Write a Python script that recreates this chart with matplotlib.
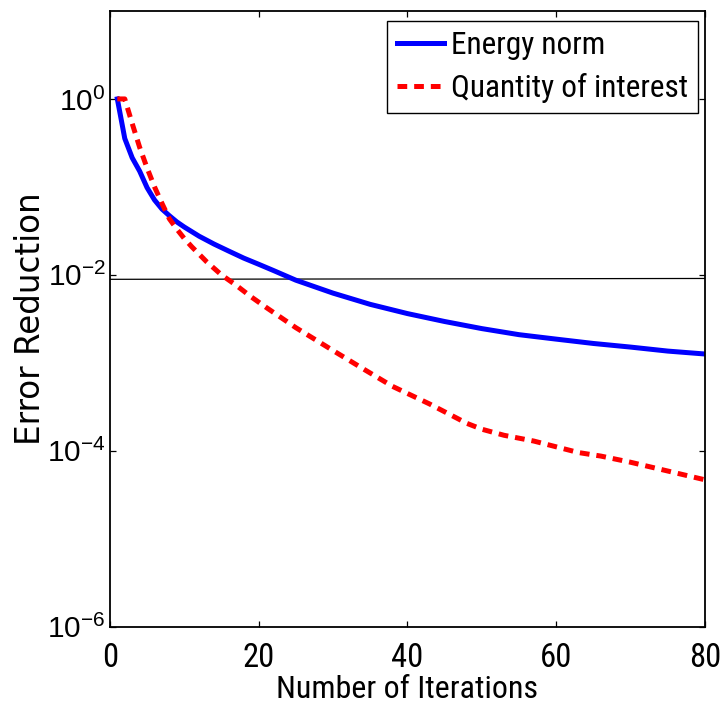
import os
import matplotlib
matplotlib.use("Agg")
import matplotlib.pyplot as plt
import matplotlib.font_manager as fm
from matplotlib.font_manager import FontProperties
from matplotlib.ticker import FixedLocator, NullLocator, FixedFormatter

plt.rcParams["font.family"] = ["Liberation Sans", "DejaVu Sans"]
plt.rcParams["lines.scale_dashes"] = False


def narrow_font_file():
    """Return the path of a narrow/condensed regular sans face, if any."""
    prefs = ["liberationsansnarrow-regular", "arialnarrow", "robotocondensed-regular",
             "opensans_condensed-regular", "opensanscondensed-regular",
             "notosans-condensed.", "notosans-condensedregular",
             "dejavusanscondensed."]
    files = [f.fname for f in fm.fontManager.ttflist]
    for key in prefs:
        for path in files:
            if key in os.path.basename(path).lower().replace(" ", ""):
                return path
    return None


NARROW_FILE = narrow_font_file()
NARROW_NAME = (FontProperties(fname=NARROW_FILE).get_name()
               if NARROW_FILE else "Liberation Sans")

plt.rcParams["mathtext.fontset"] = "custom"
plt.rcParams["mathtext.rm"] = NARROW_NAME
plt.rcParams["mathtext.it"] = NARROW_NAME
plt.rcParams["mathtext.default"] = "regular"


def text_font(size):
    if NARROW_FILE:
        return FontProperties(fname=NARROW_FILE, size=size)
    return FontProperties(family="Liberation Sans", size=size * 0.85)


# Energy-norm error reduction per iteration
energy_iter = [1, 2, 3, 4, 5, 6, 7, 8, 9, 10, 12, 14, 16, 18, 20, 22, 25,
               30, 35, 40, 45, 50, 55, 60, 65, 70, 75, 80]
energy_err = [1.0, 0.355, 0.214, 0.151, 0.098, 0.071, 0.056, 0.047, 0.040,
              0.035, 0.0275, 0.0224, 0.0186, 0.0155, 0.0132, 0.0112, 0.0087,
              0.0062, 0.00462, 0.00363, 0.00295, 0.00245, 0.00209, 0.00186,
              0.00166, 0.00151, 0.00136, 0.00126]

# Quantity-of-interest error reduction per iteration
qoi_iter = [1, 2, 3, 4, 5, 6, 7, 8, 9, 10, 11, 13, 15, 17, 19, 21, 25, 30,
            34, 38, 43, 48, 50, 53, 57, 63, 66, 70, 75, 80]
qoi_err = [1.0, 1.0, 0.525, 0.282, 0.164, 0.100, 0.065, 0.0433, 0.0331,
           0.0259, 0.0209, 0.0141, 0.0100, 0.00759, 0.00562, 0.00427,
           0.00251, 0.00138, 0.00086, 0.00054, 0.00034, 0.000205, 0.000176,
           0.000150, 0.000129, 0.0000955, 0.0000871, 0.0000741, 0.0000589,
           0.0000468]

# Tolerance reference line
tol_x = [0, 80]
tol_y = [0.0089, 0.0091]

x_ticks = [0, 20, 40, 60, 80]
x_tick_labels = ["0", "20", "40", "60", "80"]
y_ticks = [1e-6, 1e-4, 1e-2, 1e0]
y_tick_labels = [r"$10^{-6}$", r"$10^{-4}$", r"$10^{-2}$", r"$10^{0}$"]

fig = plt.figure(figsize=(7.23, 7.08), dpi=100)
ax = fig.add_axes([0.152, 0.1148, 0.823, 0.8697])

ax.plot(tol_x, tol_y, color="black", lw=0.9)
ax.plot(energy_iter, energy_err, color="#0000ff", lw=3.6,
        solid_joinstyle="round", label="Energy norm")
ax.plot(qoi_iter, qoi_err, color="#ff0000", lw=3.6, dashes=(7, 5),
        dash_capstyle="butt", label="Quantity of interest")

ax.set_yscale("log")
ax.set_xlim(0, 80)
ax.set_ylim(1e-6, 1e1)

ax.xaxis.set_major_locator(FixedLocator(x_ticks))
ax.xaxis.set_major_formatter(FixedFormatter(x_tick_labels))
ax.yaxis.set_major_locator(FixedLocator(y_ticks))
ax.yaxis.set_major_formatter(FixedFormatter(y_tick_labels))
ax.yaxis.set_minor_locator(NullLocator())
ax.xaxis.set_minor_locator(NullLocator())

ax.tick_params(direction="in", length=4.5, width=0.9, top=True, right=True,
               colors="black")
ax.tick_params(axis="x", pad=11)
ax.tick_params(axis="y", pad=3, labelsize=21.5)
for lbl in ax.get_xticklabels():
    lbl.set_fontproperties(text_font(23.5))

for sp in ax.spines.values():
    sp.set_linewidth(1.3)
    sp.set_color("black")

ax.set_xlabel("Number of Iterations", fontproperties=text_font(23),
              labelpad=1)
ax.set_ylabel("Error Reduction", fontsize=23.5, family="DejaVu Sans",
              labelpad=0)

leg = ax.legend(loc="upper right", bbox_to_anchor=(698 / 723, 1 - 20.7 / 708),
                bbox_transform=fig.transFigure, borderaxespad=0,
                prop=text_font(22.5), handlelength=1.5, handletextpad=0.2,
                labelspacing=0.42, borderpad=0.33, fancybox=False,
                framealpha=1, edgecolor="black")
leg.get_frame().set_linewidth(1.0)

fig.savefig("out.png", dpi=100)
